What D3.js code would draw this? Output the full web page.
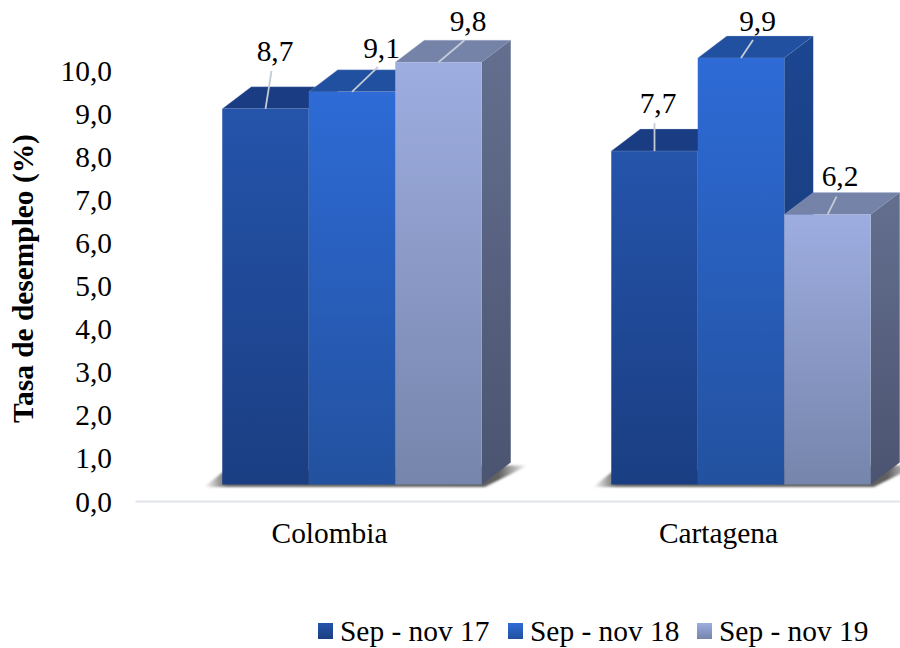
<!DOCTYPE html>
<html><head><meta charset="utf-8">
<script src="https://cdn.jsdelivr.net/npm/d3@7"></script>
<style>html,body{margin:0;background:#fff}svg{display:block}text{font-family:"Liberation Serif",serif;fill:#000}</style>
</head><body><svg id="c" width="900" height="648"></svg>
<script>
const categories = ["Colombia", "Cartagena"];
const seriesNames = ["Sep - nov 17", "Sep - nov 18", "Sep - nov 19"];
const valuesSep17 = [8.7, 7.7];
const valuesSep18 = [9.1, 9.9];
const valuesSep19 = [9.8, 6.2];
const tickValues = [0,1,2,3,4,5,6,7,8,9,10];
const seriesValues = [valuesSep17, valuesSep18, valuesSep19];

const svg = d3.select("#c");
const fmt = v => v.toFixed(1).replace(".", ",");
const FS = 29.4;
const y = d3.scaleLinear().domain([0,10]).range([501,70]);
const yBar = d3.scaleLinear().domain([0,10]).range([476.8,53.8]);
const floorY = 484.5;
const x0 = d3.scaleBand().domain(categories).range([135,913]);
const dx = 29, dy = -22, shift = 22.5;
const x1 = d3.scaleBand().domain([0,1,2]).range([-129.75,129.75]);

const palette = [
  {front:["#2554ab","#1a3e82"], side:["#1b4186","#13305f"], top:"#193c82"},
  {front:["#2e6bd6","#22519f"], side:["#1c4691","#17376f"], top:"#20509f"},
  {front:["#9dade0","#7685ab"], side:["#646f8f","#4b5470"], top:"#7583a9"}
];
const defs = svg.append("defs");
const grad = (id,c)=>{const g=defs.append("linearGradient").attr("id",id).attr("x1",0).attr("y1",0).attr("x2",0).attr("y2",1);
  g.append("stop").attr("offset","0%").attr("stop-color",c[0]);
  g.append("stop").attr("offset","100%").attr("stop-color",c[1]);};
palette.forEach((p,i)=>{grad("f"+i,p.front);grad("s"+i,p.side);});
const sg = defs.append("linearGradient").attr("id","shadow");
[[0,0],[0.07,.8],[0.91,.85],[1,0]].forEach(([o,a])=>sg.append("stop").attr("offset",o).attr("stop-color","#444").attr("stop-opacity",a));
defs.append("filter").attr("id","blur").attr("x","-5%").attr("y","-20%").attr("width","110%").attr("height","140%")
  .append("feGaussianBlur").attr("stdDeviation",1.2);

const axL = svg.append("g").attr("transform","translate(112,0)")
  .call(d3.axisLeft(y).tickValues(tickValues).tickFormat(fmt).tickSize(0).tickPadding(0));
axL.select(".domain").remove();
axL.selectAll("text").attr("font-size",FS).attr("font-family","Liberation Serif").attr("fill","#000").attr("dy","0.34em");
const axB = svg.append("g").attr("transform","translate(0,501)")
  .call(d3.axisBottom(x0).tickSize(0).tickPadding(21.5));
axB.select(".domain").attr("stroke","#dfe4ec").attr("stroke-width",2);
axB.selectAll("text").attr("font-size",FS).attr("font-family","Liberation Serif").attr("fill","#000");

svg.append("text").attr("transform","translate(33,278.5) rotate(-90)").attr("text-anchor","middle")
  .attr("font-size",FS).attr("font-weight","bold").text("Tasa de desempleo (%)");

categories.forEach((c,ci)=>{
  const cx = x0(c)+x0.bandwidth()/2+shift;
  const l = cx+x1(0), r = cx+x1(2)+x1.bandwidth(), b = floorY;
  const g = svg.append("g");
  g.append("polygon").attr("fill","url(#shadow)").attr("filter","url(#blur)")
    .attr("points",[[l-18,b+2.5],[r+3,b+2.5],[r+dx+17,b+dy+3],[r,b+dy+3],[l,b-12]].join(" "));
  seriesValues.forEach((vals,si)=>{
    const v = vals[ci], xl = cx+x1(si), w = x1.bandwidth(), t = yBar(v);
    g.append("polygon").attr("fill",palette[si].top).attr("stroke","#aab6d6").attr("stroke-width",.5).attr("stroke-opacity",.6)
      .attr("points",[[xl,t],[xl+dx,t+dy],[xl+w+dx,t+dy],[xl+w,t]].join(" "));
    g.append("polygon").attr("fill",`url(#s${si})`)
      .attr("points",[[xl+w,t],[xl+w+dx,t+dy],[xl+w+dx,b+dy],[xl+w,b]].join(" "));
    g.append("rect").attr("x",xl).attr("y",t).attr("width",w).attr("height",b-t).attr("fill",`url(#f${si})`);
  });
});

const leaderTop = [[[6,-38],[26,-25],[26,-22]],[[0,-28],[12,-18],[9,-18]]];
const labelOff  = [[[9.5,-48],[29.5,-33.5],[29.5,-31]],[[3.5,-38],[16.5,-26.6],[12.5,-28.3]]];
categories.forEach((c,ci)=>{
  const cx = x0(c)+x0.bandwidth()/2+shift;
  seriesValues.forEach((vals,si)=>{
    const v = vals[ci], xm = cx+x1(si)+x1.bandwidth()/2, t = yBar(v);
    const lt = leaderTop[ci][si], lo = labelOff[ci][si];
    svg.append("line").attr("x1",xm).attr("y1",t).attr("x2",xm+lt[0]).attr("y2",t+lt[1])
      .attr("stroke","#c3cbd6").attr("stroke-width",1.8);
    svg.append("text").attr("x",xm+lo[0]).attr("y",t+lo[1]).attr("text-anchor","middle")
      .attr("font-size",FS).text(fmt(v));
  });
});

const lx = d3.scaleOrdinal().domain(seriesNames).range([318,508,697]);
seriesNames.forEach((n,i)=>{
  svg.append("rect").attr("x",lx(n)).attr("y",623).attr("width",15).attr("height",16).attr("fill",`url(#f${i})`);
  svg.append("text").attr("x",lx(n)+22).attr("y",640.5).attr("font-size",FS).text(n);
});
</script></body></html>
